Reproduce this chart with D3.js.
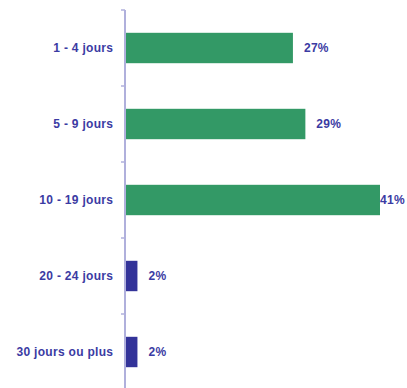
<!DOCTYPE html>
<html>
<head>
<meta charset="utf-8">
<script src="https://cdn.jsdelivr.net/npm/d3@7"></script>
<style>
  html, body { margin: 0; padding: 0; background: #fff; }
  svg { display: block; }
  text { font-family: "Liberation Sans", Arial, sans-serif; font-weight: bold; letter-spacing: 0.3px; }
</style>
</head>
<body>
<div id="chart"></div>
<script>
// Durée (en jours) — répartition en %
const categories = ["1 - 4 jours", "5 - 9 jours", "10 - 19 jours", "20 - 24 jours", "30 jours ou plus"];
const values = [27, 29, 41, 2, 2];
const barColors = ["#339966", "#339966", "#339966", "#333399", "#333399"];

const width = 407, height = 388;
const axisX = 125, plotTop = 10, plotBottom = 390;

const svg = d3.select("#chart").append("svg")
  .attr("width", width).attr("height", height);

const y = d3.scaleBand()
  .domain(categories)
  .range([plotTop, plotBottom])
  .paddingInner(0.6)
  .paddingOuter(0.3);

const x = d3.scaleLinear()
  .domain([0, 41])
  .range([axisX, 380]);

// bars
svg.selectAll("rect.bar")
  .data(values)
  .join("rect")
  .attr("class", "bar")
  .attr("x", x(0))
  .attr("y", (d, i) => y(categories[i]))
  .attr("width", d => x(d) - x(0))
  .attr("height", y.bandwidth())
  .attr("fill", (d, i) => barColors[i]);

// value labels
svg.selectAll("text.val")
  .data(values)
  .join("text")
  .attr("class", "val")
  .attr("x", d => x(d) + (d > 40 ? 0 : 11))
  .attr("y", (d, i) => y(categories[i]) + y.bandwidth() / 2)
  .attr("dy", "0.35em")
  .attr("font-size", 12)
  .attr("fill", "#3b3ba3")
  .text(d => d + "%");

// category axis with ticks at band boundaries
const boundaries = d3.range(categories.length).map(i => plotTop + i * (plotBottom - plotTop) / categories.length);
const axisColor = "#b0b0dc";
svg.append("line")
  .attr("x1", axisX).attr("x2", axisX)
  .attr("y1", plotTop).attr("y2", plotBottom)
  .attr("stroke", axisColor).attr("stroke-width", 2);
svg.selectAll("line.tick")
  .data(boundaries)
  .join("line")
  .attr("class", "tick")
  .attr("x1", axisX - 4).attr("x2", axisX)
  .attr("y1", d => d).attr("y2", d => d)
  .attr("stroke", axisColor).attr("stroke-width", 1.5);

svg.selectAll("text.cat")
  .data(categories)
  .join("text")
  .attr("class", "cat")
  .attr("x", 113.3)
  .attr("y", d => y(d) + y.bandwidth() / 2)
  .attr("dy", "0.35em")
  .attr("text-anchor", "end")
  .attr("font-size", 12)
  .attr("fill", "#3b3ba3")
  .text(d => d);
</script>
</body>
</html>
